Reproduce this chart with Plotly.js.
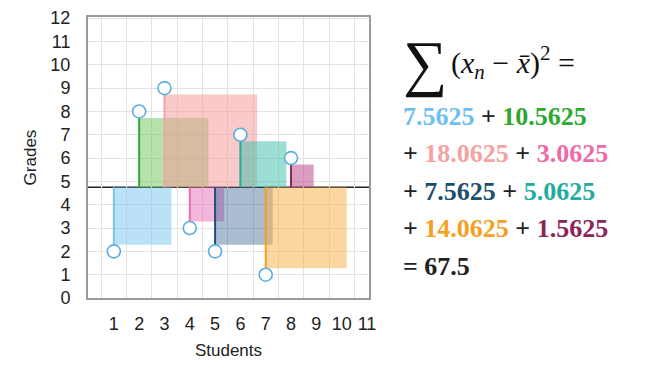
<!DOCTYPE html>
<html>
<head>
<meta charset="utf-8">
<script src="https://cdn.plot.ly/plotly-3.0.1.min.js"></script>
<style>
html,body{margin:0;padding:0;background:#fff;}
#chart{width:658px;height:371px;}
</style>
</head>
<body>
<div id="chart"></div>
<script>
// ---- data ----
const students = [1, 2, 3, 4, 5, 6, 7, 8];
const grades = [2, 8, 9, 3, 2, 7, 1, 6];
const xTickVals = [1, 2, 3, 4, 5, 6, 7, 8, 9, 10, 11];
const yTickVals = [0, 1, 2, 3, 4, 5, 6, 7, 8, 9, 10, 11, 12];
const xGridVals = [0.5, 1.5, 2.5, 3.5, 4.5, 5.5, 6.5, 7.5, 8.5, 9.5, 10.5];
const xTitle = 'Students';
const yTitle = 'Grades';

// ---- styles ----
const lineColors = ['#7cc4ea', '#34a834', '#f2a3a3', '#ec6aa9', '#1d4f7c', '#27aa9c', '#f3a021', '#8e2459'];
const textColors = ['#6cc0f0', '#2ea82e', '#f4a2a2', '#ee6aa8', '#1c4e6e', '#20ad9e', '#f5a020', '#8e2358'];
const fillColors = [
  'rgba(120,196,240,0.50)', 'rgba(110,200,90,0.50)', 'rgba(245,150,150,0.50)', 'rgba(236,110,185,0.50)',
  'rgba(40,90,140,0.40)', 'rgba(60,190,170,0.50)', 'rgba(250,175,70,0.50)', 'rgba(185,60,135,0.50)'
];

const W = 658, H = 371;
const M = {l: 88, r: 289, t: 17, b: 73};
const plotW = W - M.l - M.r, plotH = H - M.t - M.b;
const xRange = [-0.02, 11.08];
const yRange = [0, 12.05];
const pxX = plotW / (xRange[1] - xRange[0]);
const pxY = plotH / (yRange[1] - yRange[0]);
const markerR = 6.5; // px

const mean = grades.reduce((a, b) => a + b, 0) / grades.length;
const sq = grades.map(g => (g - mean) * (g - mean));
const total = sq.reduce((a, b) => a + b, 0);

const shapes = [];
// squares
students.forEach((x, i) => {
  const dev = grades[i] - mean;
  const sidePx = Math.abs(dev) * pxY - markerR;
  const dir = dev >= 0 ? 1 : -1;
  shapes.push({
    type: 'rect', xref: 'x', yref: 'y', layer: 'between',
    x0: x, x1: x + sidePx / pxX,
    y0: mean, y1: mean + dir * sidePx / pxY,
    fillcolor: fillColors[i], line: {width: 0}
  });
});
// stems
students.forEach((x, i) => {
  const dev = grades[i] - mean;
  const dir = dev >= 0 ? 1 : -1;
  shapes.push({
    type: 'line', xref: 'x', yref: 'y', layer: 'between',
    x0: x, x1: x, y0: mean, y1: grades[i] - dir * markerR / pxY,
    line: {color: lineColors[i], width: 2}
  });
});
// mean line
shapes.push({
  type: 'line', xref: 'paper', yref: 'y', layer: 'between',
  x0: 0, x1: 1, y0: mean, y1: mean,
  line: {color: '#222', width: 1.5}
});

// ---- right-side formula text ----
const px2paperX = px => (px - M.l) / plotW;
const px2paperY = py => (H - M.b - py) / plotH;
const col = (i) => '<span style="color:' + textColors[i] + '">' + sq[i] + '</span>';
const lines = [
  col(0) + ' + ' + col(1),
  '+ ' + col(2) + ' + ' + col(3),
  '+ ' + col(4) + ' + ' + col(5),
  '+ ' + col(6) + ' + ' + col(7),
  '= ' + total
];
const lineY = [116, 153, 191, 228, 266];
const annotations = lines.map((t, k) => ({
  xref: 'paper', yref: 'paper', x: px2paperX(401), y: px2paperY(lineY[k]),
  xanchor: 'left', yanchor: 'middle', showarrow: false,
  text: '<b>' + t + '</b>',
  font: {family: 'Liberation Serif', size: 26, color: '#222'}
}));
annotations.push({
  xref: 'paper', yref: 'paper', x: px2paperX(425), y: px2paperY(63),
  xanchor: 'center', yanchor: 'middle', showarrow: false,
  text: '\u2211', font: {family: 'Liberation Serif', size: 62, color: '#111'}
});
annotations.push({
  xref: 'paper', yref: 'paper', x: px2paperX(449), y: px2paperY(62),
  xanchor: 'left', yanchor: 'middle', showarrow: false,
  text: '(<i>x</i><sub><i>n</i></sub> \u2212 <i>x\u0304</i>)<sup>2</sup> =',
  font: {family: 'Liberation Serif', size: 30, color: '#111'}
});

const traces = [{
  type: 'scatter', mode: 'markers', x: students, y: grades,
  marker: {size: 13, color: '#fff', line: {color: '#5aaee0', width: 1.6}},
  hoverinfo: 'skip', cliponaxis: false
}];

const layout = {
  width: W, height: H, margin: M,
  paper_bgcolor: '#fff', plot_bgcolor: '#fff',
  showlegend: false,
  font: {family: 'Liberation Sans', color: '#222'},
  xaxis: {
    range: xRange, tickmode: 'array', tickvals: xTickVals,
    showgrid: false, zeroline: false,
    showline: true, mirror: true, linecolor: '#9a9a9a', linewidth: 2,
    ticks: '', ticklabelstandoff: 8,
    tickfont: {size: 18, color: '#222'},
    minor: {tickmode: 'array', tickvals: xGridVals, showgrid: true, gridcolor: '#e2e2e2', gridwidth: 1, ticks: ''},
    title: {text: xTitle, font: {size: 17, color: '#222'}, standoff: 12}
  },
  yaxis: {
    range: yRange, tickmode: 'array', tickvals: yTickVals,
    showgrid: true, gridcolor: '#e2e2e2', gridwidth: 1, zeroline: false,
    showline: true, mirror: true, linecolor: '#9a9a9a', linewidth: 2,
    ticks: '', ticklabelstandoff: 12,
    tickfont: {size: 18, color: '#222'},
    title: {text: yTitle, font: {size: 17, color: '#222'}, standoff: 9}
  },
  shapes: shapes,
  annotations: annotations
};

Plotly.newPlot('chart', traces, layout, {displayModeBar: false, staticPlot: true});
</script>
</body>
</html>
